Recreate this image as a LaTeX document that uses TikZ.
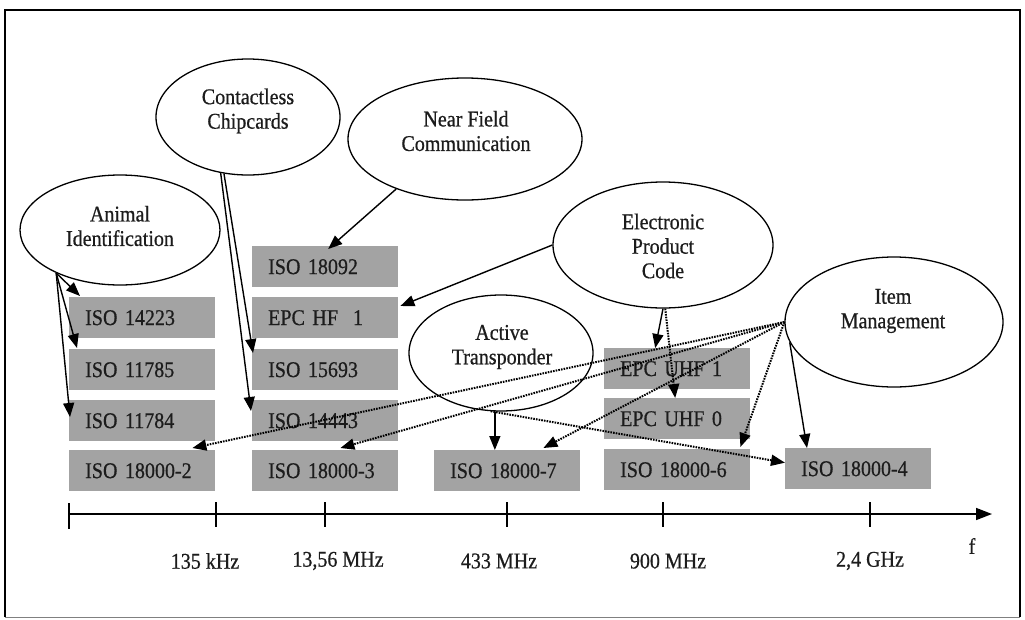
\documentclass[tikz,border=0pt]{standalone}
\usepackage{fontspec}
\setmainfont{Liberation Serif}[FakeStretch=0.89, FakeBold=0.6]
\usetikzlibrary{arrows.meta,calc,shapes.geometric}
\definecolor{boxgray}{RGB}{163,163,163}
\definecolor{txtgray}{RGB}{28,28,28}
\begin{document}
\begin{tikzpicture}[x=1pt,y=-1pt,
  every node/.style={font=\fontsize{22.5}{24.5}\selectfont},
  boxst/.style={fill=boxgray, text=txtgray, anchor=north west, minimum height=41pt,
    text width=114pt, inner xsep=16pt, inner ysep=0pt, align=left},
  ell/.style={draw, ellipse, fill=white, line width=1.3pt, inner sep=0pt},
  elltxt/.style={inner sep=0pt, align=center, text=txtgray},
  arr/.style={line width=1.4pt, -{Triangle[length=14pt,width=11pt]}},
  darr/.style={line width=2pt, dash pattern=on 1.6pt off 1.1pt, -{Triangle[length=14pt,width=11pt]}},
  axlab/.style={inner sep=0pt, text=txtgray}
]
\useasboundingbox (0,0) rectangle (1025,619);
\draw[line width=2.5pt] (5,617) -- (5,10) -- (1020,10) -- (1020,617);
\draw[line width=1pt, gray] (5,617) -- (1020,617);

% boxes
\node[boxst] (a1) at (69,297) {ISO 14223};
\node[boxst] (a2) at (69,349) {ISO 11785};
\node[boxst] (a3) at (69,400) {ISO 11784};
\node[boxst] (a4) at (69,450) {ISO 18000-2};
\node[boxst] (c1) at (252,246) {ISO 18092};
\node[boxst] (c2) at (252,297) {EPC HF\ \ 1};
\node[boxst] (c3) at (252,349) {ISO 15693};
\node[boxst] (c4) at (252,400) {ISO 14443};
\node[boxst] (c5) at (252,450) {ISO 18000-3};
\node[boxst] (t7) at (434,450) {ISO 18000-7};
\node[boxst] (u1) at (604,348) {EPC UHF 1};
\node[boxst] (u0) at (604,398) {EPC UHF 0};
\node[boxst] (s6) at (604,449) {ISO 18000-6};
\node[boxst] (t4) at (785,448) {ISO 18000-4};

% ellipses
\node[ell, minimum width=200pt, minimum height=110pt] (ai) at (120,230) {};
\node[ell, minimum width=184pt, minimum height=116pt] (cc) at (248,117) {};
\node[ell, minimum width=234pt, minimum height=122pt] (nf) at (465,139) {};
\node[ell, minimum width=220pt, minimum height=126pt] (ep) at (663,245) {};
\node[ell, minimum width=218pt, minimum height=130pt] (it) at (894,322) {};
\node[ell, minimum width=184pt, minimum height=116pt] (at) at (501,353) {};

\node[elltxt] (ait) at (120,226) {Animal\\Identification};
\node[elltxt] (cct) at (248,111) {Contactless\\Chipcards};
\node[elltxt] (nft) at (466,131) {Near Field\\Communication};
\node[elltxt] (ept) at (663,246) {Electronic\\Product\\Code};
\node[elltxt] (itt) at (893,311) {Item\\Management};
\node[elltxt] (att) at (502,347) {Active\\Transponder};

% solid arrows
\draw[arr] (ai.214.7) -- ($(a1.north west)+(11,-1)$);
\draw[arr] (ai.214.7) -- ($(a2.north west)+(8,-1)$);
\draw[arr] (ai.214.7) -- ($(a3.north west)+(1,17)$);
\draw[arr] (cc.247) -- ($(c3.north west)+(1,4)$);
\draw[arr] (cc.244) -- ($(c4.north west)+(-1,11)$);
\draw[arr] (nf.216) -- ($(c1.north)+(3,3)$);
\draw[arr] (ep.west) -- ($(c2.north east)+(2,9)$);
\draw[arr] (ep.south) -- ($(u1.north)+(-22,0)$);
\draw[arr] (at.-96) -- (at.-96 |- t7.north);
\draw[arr] (it.191) -- ($(t4.north west)+(22,0)$);

% dotted arrows
\draw[darr] (ep.-88) -- ($(u0.north)+(-2,0)$);
\draw[darr] (at.-100) -- ($(t4.west)+(0,-6)$);
\draw[darr] (it.west) -- ($(a4.north east)+(-23,-2)$);
\draw[darr] (it.west) -- ($(c5.north east)+(-58,-2)$);
\draw[darr] (it.west) -- ($(t7.north east)+(-37,-2)$);
\draw[darr] (it.west) -- ($(s6.north east)+(-10,-2)$);

% axis
\coordinate (ax0) at (69,514);
\coordinate (ax1) at (992,514);
\draw[line width=1.6pt, -{Triangle[length=16pt,width=12pt]}] (ax0) -- (ax1);
\draw[line width=1.6pt] (69,503) -- (69,529);
\foreach \x in {216,325,507,663,870} \draw[line width=1.6pt] (\x,502) -- (\x,527);

\node[axlab] (l1) at (205,561) {135 kHz};
\node[axlab] (l2) at (338,561) {13,56 MHz};
\node[axlab] (l3) at (499,561) {433 MHz};
\node[axlab] (l4) at (668,561) {900 MHz};
\node[axlab] (l5) at (870,561) {2,4 GHz};
\node[axlab] (lf) at (972,546) {f};
\end{tikzpicture}
\end{document}
